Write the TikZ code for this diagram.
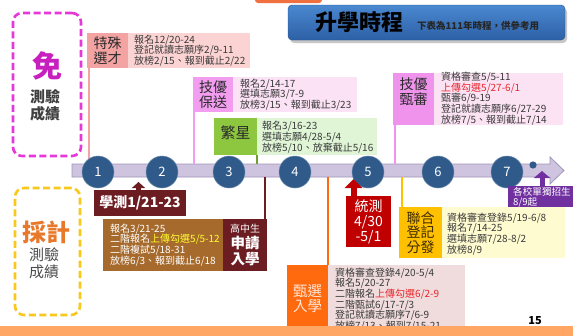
\documentclass[tikz,border=0pt]{standalone}
\usepackage{fontspec}
\setmainfont{Noto Sans CJK TC}
\usetikzlibrary{arrows.meta}
\definecolor{tslab}{HTML}{F4A3A3}
\definecolor{tsinfo}{HTML}{FCD3D3}
\definecolor{jblab}{HTML}{F29DF0}
\definecolor{jbinfo}{HTML}{FBE2F5}
\definecolor{fxlab}{HTML}{8DC63F}
\definecolor{fxinfo}{HTML}{DFF5D6}
\definecolor{jslab}{HTML}{EF93EC}
\definecolor{jsinfo}{HTML}{FBE3F3}
\definecolor{maroon}{HTML}{6B1D22}
\definecolor{brownbox}{HTML}{A66A2C}
\definecolor{zxlab}{HTML}{FF6A0E}
\definecolor{zxinfo}{HTML}{F0DCDC}
\definecolor{tcred}{HTML}{C00000}
\definecolor{lhlab}{HTML}{FFC000}
\definecolor{lhinfo}{HTML}{FFFBD0}
\definecolor{purplebox}{HTML}{7030A0}
\definecolor{bottomorange}{HTML}{FFA664}
\definecolor{toporange}{HTML}{F07040}
\definecolor{barfill}{HTML}{CEC4DF}
\definecolor{baredge}{HTML}{9F95BA}
\definecolor{circblue}{HTML}{2F5A8A}
\definecolor{titletop}{HTML}{4A88D0}
\definecolor{titlebot}{HTML}{2D60A6}
\definecolor{magentadash}{HTML}{E637D8}
\definecolor{mianmag}{HTML}{C81FBF}
\definecolor{yellowdash}{HTML}{F8C81C}
\definecolor{caiorange}{HTML}{E8782A}
\definecolor{infogray}{HTML}{3A3A3A}
\definecolor{hlred}{HTML}{E8262D}
\definecolor{hlyellow}{HTML}{FFFF33}
\definecolor{labdark}{HTML}{2A2A2A}
\definecolor{lhtext}{HTML}{3D2A00}
\definecolor{zxtext}{HTML}{FFE6DA}
\begin{document}
\begin{tikzpicture}[x=1pt,y=-1pt,
  rbox/.style={anchor=north west, inner sep=0, outer sep=0, draw=none},
  infotext/.style={anchor=west, inner sep=0, align=left, font=\fontsize{10}{10.7}\selectfont, text=infogray},
  labtext/.style={inner sep=0, align=center, font=\fontsize{14}{15}\selectfont, text=labdark},
  vline/.style={line width=1.3pt},
  circ/.style={circle, fill=circblue, draw=circblue!70!white, line width=0.5pt, minimum size=32pt, inner sep=0, text=white, font=\fontsize{13}{13}\selectfont},
]
\useasboundingbox (0,0) rectangle (573,335);
\fill[white] (0,0) rectangle (573,335);

% top orange piece
\fill[toporange, rounded corners=3] (255,-6) rectangle (322,3);

% title
\fill[black!22, rounded corners=4] (290,8) rectangle (567,43);
\node[rbox, minimum width=277, minimum height=35, rounded corners=4, top color=titletop, bottom color=titlebot, draw=titlebot!85!black, line width=0.4pt] (title) at (288,5) {};
\node[font=\fontsize{22}{22}\selectfont\bfseries, text=black, anchor=west, inner sep=0] (titletext) at (315,22.5) {升學時程};
\node[font=\fontsize{9.5}{9.5}\selectfont\bfseries, text=black!85, anchor=west, inner sep=0] (subtitle) at (417,26) {下表為111年時程，供參考用};

% dashed groups
\node[rbox, minimum width=68, minimum height=143, draw=magentadash, line width=2.6pt, dash pattern=on 7pt off 3.5pt, rounded corners=9] (mianbox) at (13,13) {};
\node[font=\fontsize{30}{30}\selectfont\bfseries, text=mianmag, inner sep=0] (mian) at (47,66) {免};
\node[labtext, text=black!75, font=\fontsize{15}{17}\selectfont\bfseries] (mianlab) at (45,105) {測驗\\成績};

\node[rbox, minimum width=65, minimum height=127, draw=yellowdash, line width=2.6pt, dash pattern=on 7pt off 3.5pt, rounded corners=9] (caibox) at (15,188) {};
\node[font=\fontsize{24}{24}\selectfont\bfseries, text=caiorange, inner sep=0] (cai) at (46,232) {採計};
\node[labtext, text=black!70, font=\fontsize{15}{17}\selectfont] (cailab) at (44,263.5) {測驗\\成績};

% timeline
\path[fill=barfill, draw=baredge, line width=0.8pt] (72,164) -- (550,164) -- (550,157) -- (564,170.5) -- (550,184) -- (550,177) -- (72,177) -- cycle;
\coordinate (bt1) at (89,164);
\coordinate (bt2) at (194,164);
\coordinate (bt3) at (257,164);
\coordinate (bt4) at (395,164);
\coordinate (bb1) at (265,177);
\coordinate (bb2) at (328,177);
\coordinate (bb3) at (402,177);

% top boxes
\node[rbox, fill=tslab, minimum width=41, minimum height=35] (tsLabel) at (87,33) {};
\node[rbox, fill=tsinfo, minimum width=122, minimum height=35] (tsInfo) at (128,33) {};
\node[labtext] (tsText) at (tsLabel.center) {特殊\\選才};
\node[infotext] (tsLines) at (134,50.5) {報名12/20-24\\登記就讀志願序2/9-11\\放榜2/15、報到截止2/22};
\draw[vline, tslab] (bt1 |- tsLabel.south) -- (bt1);

\node[rbox, fill=jblab, minimum width=40, minimum height=35] (jbLabel) at (193,77) {};
\node[rbox, fill=jbinfo, minimum width=124, minimum height=35] (jbInfo) at (233,77) {};
\node[labtext] (jbText) at (jbLabel.center) {技優\\保送};
\node[infotext] (jbLines) at (240,94.5) {報名2/14-17\\選填志願3/7-9\\放榜3/15、報到截止3/23};
\draw[vline, jblab] (bt2 |- jbLabel.south) -- (bt2);

\node[rbox, fill=fxlab, minimum width=43, minimum height=37] (fxLabel) at (214,118) {};
\node[rbox, fill=fxinfo, minimum width=120, minimum height=37] (fxInfo) at (257,118) {};
\node[labtext, font=\fontsize{15}{15}\selectfont] (fxText) at (235.5,133) {繁星};
\node[infotext] (fxLines) at (262,137) {報名3/16-23\\選填志願4/28-5/4\\放榜5/10、放棄截止5/16};
\draw[vline, fxlab!80!black] (bt3 |- fxLabel.south) -- (bt3);

\node[rbox, fill=jslab, minimum width=41, minimum height=52] (jsLabel) at (393,73) {};
\node[rbox, fill=jsinfo, minimum width=129, minimum height=52] (jsInfo) at (434,73) {};
\node[labtext] (jsText) at (413.5,92) {技優\\甄審};
\node[infotext] (jsLines) at (441,98.5) {資格審查5/5-11\\\textcolor{hlred}{上傳勾選5/27-6/1}\\甄審6/9-19\\登記就讀志願序6/27-29\\放榜7/5、報到截止7/14};
\draw[vline, jslab] (bt4 |- jsLabel.south) -- (bt4);

% circles
\node[circ] (c1) at (98,172) {1};
\node[circ] (c2) at (162,172) {2};
\node[circ] (c3) at (229,172) {3};
\node[circ] (c4) at (295,172) {4};
\node[circ] (c5) at (368,172) {5};
\node[circ] (c6) at (438,172) {6};
\node[circ] (c7) at (507,172) {7};
\fill[circblue] (533,165) circle (3.6);

% 學測
\node[rbox, fill=maroon, minimum width=92, minimum height=26] (xc) at (94,190) {};
\node[inner sep=0, text=white, font=\fontsize{14}{14}\selectfont\bfseries] (xcText) at (xc.center) {學測1/21-23};
\coordinate (xctip) at (138.5,182);
\draw[maroon, line width=5pt, -{Triangle[width=13pt,length=6pt]}] (xctip |- xc.north) -- (xctip);

% 申請入學
\node[rbox, fill=brownbox, minimum width=120, minimum height=52] (sqInfo) at (103,219) {};
\node[rbox, fill=maroon, minimum width=44, minimum height=52] (sqLabel) at (223,219) {};
\node[infotext, text=white] (sqLines) at (110,245) {報名3/21-25\\二階報名\textcolor{hlyellow}{上傳勾選5/5-12}\\二階複試5/18-31\\放榜6/3、報到截止6/18};
\node[inner sep=0, text=white, font=\fontsize{10}{10}\selectfont] (sqSmall) at (245,229) {高中生};
\node[inner sep=0, text=white, align=center, font=\fontsize{14.5}{16}\selectfont\bfseries] (sqText) at (245,251) {申請\\入學};
\draw[vline, maroon] (bb1) -- (bb1 |- sqLabel.north);

% 甄選入學
\node[rbox, fill=zxlab, minimum width=41, minimum height=65] (zxLabel) at (287,265) {};
\node[rbox, fill=zxinfo, minimum width=137, minimum height=65] (zxInfo) at (328,265) {};
\node[inner sep=0, text=zxtext, align=center, font=\fontsize{14.5}{15}\selectfont] (zxText) at (307.5,298.5) {甄選\\入學};
\node[infotext, anchor=north west] (zxLines) at (335,267.5) {資格審查登錄4/20-5/4\\報名5/20-27\\二階報名\textcolor{hlred}{上傳勾選6/2-9}\\二階甄試6/17-7/3\\登記就讀志願序7/6-9\\放榜7/13、報到7/15-21};
\draw[vline, zxlab] (bb2) -- (bb2 |- zxLabel.north);

% 統測
\node[rbox, fill=tcred, minimum width=45, minimum height=51] (tc) at (346,196) {};
\node[inner sep=0, text=white, align=center, font=\fontsize{14}{15}\selectfont] (tcText) at (368.5,222) {統測\\4/30\\-5/1};
\coordinate (tctip) at (353.5,179);
\draw[tcred, line width=6pt, -{Triangle[width=17pt,length=9pt]}] (tctip |- tc.north) -- (tctip);

% 聯合登記分發
\node[rbox, fill=lhlab, minimum width=43, minimum height=51] (lhLabel) at (399,207) {};
\node[rbox, fill=lhinfo, minimum width=123, minimum height=51] (lhInfo) at (442,207) {};
\node[inner sep=0, text=lhtext, align=center, font=\fontsize{14}{14.5}\selectfont] (lhText) at (420.5,232.5) {聯合\\登記\\分發};
\node[infotext] (lhLines) at (447,234) {資格審查登錄5/19-6/8\\報名7/14-25\\選填志願7/28-8/2\\放榜8/9};
\draw[vline, lhlab] (bb3) -- (bb3 |- lhLabel.north);

% 各校單獨招生
\node[rbox, fill=purplebox, minimum width=70, minimum height=21] (pp) at (508,186) {};
\node[infotext, text=white, font=\fontsize{9.6}{10.4}\selectfont] (ppText) at (513,197) {各校單獨招生\\8/9起};
\coordinate (pptip) at (542,171);
\draw[purplebox, line width=5pt, -{Triangle[width=16pt,length=7pt]}] (pptip |- pp.north) -- (pptip);

% bottom bar and page number
\fill[bottomorange] (0,326) rectangle (573,336);
\node[inner sep=0, font=\fontsize{11}{11}\selectfont\bfseries] (pagenum) at (535,321) {15};
\end{tikzpicture}
\end{document}
